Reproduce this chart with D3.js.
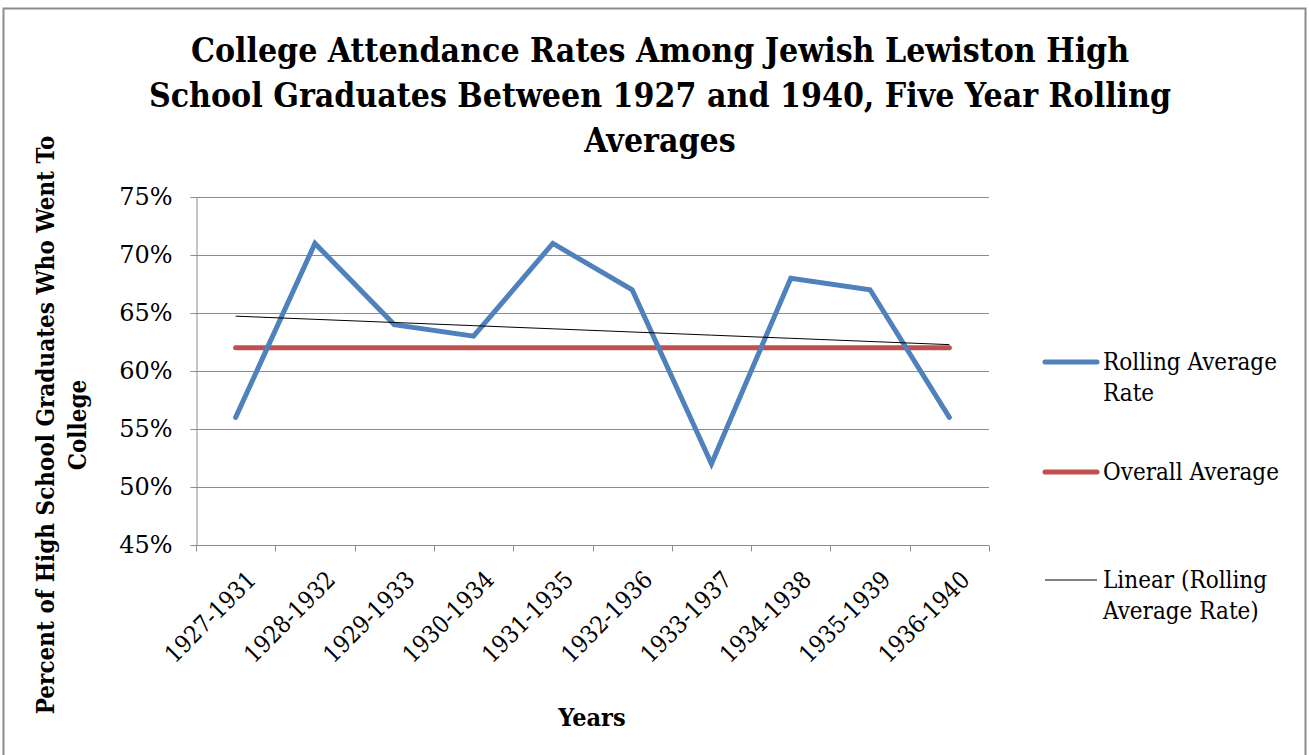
<!DOCTYPE html>
<html>
<head>
<meta charset="utf-8">
<script src="https://cdn.jsdelivr.net/npm/d3@7"></script>
<style>
  body { margin: 0; background: #fff; }
  text { font-family: "DejaVu Serif Condensed", "DejaVu Serif", serif; fill: #000; }
  .grid line { stroke: #8c8c8c; stroke-width: 1; }
  .axis path, .axis line { stroke: #8c8c8c; }
</style>
</head>
<body>
<div id="chart"></div>
<script>
var width = 1309, height = 755;

var periods = ["1927-1931", "1928-1932", "1929-1933", "1930-1934", "1931-1935",
               "1932-1936", "1933-1937", "1934-1938", "1935-1939", "1936-1940"];
var rollingRate = [0.56, 0.71, 0.64, 0.63, 0.71, 0.67, 0.52, 0.68, 0.67, 0.56];
var overallAvg = [0.62, 0.62, 0.62, 0.62, 0.62, 0.62, 0.62, 0.62, 0.62, 0.62];
var yTicks = [0.45, 0.50, 0.55, 0.60, 0.65, 0.70, 0.75];
var titleLines = ["College Attendance Rates Among Jewish Lewiston High",
                  "School Graduates Between 1927 and 1940, Five Year Rolling",
                  "Averages"];
var legendItems = [
  {lines: ["Rolling Average", "Rate"], color: "#4f81bd", w: 5},
  {lines: ["Overall Average"], color: "#c0504d", w: 5},
  {lines: ["Linear (Rolling", "Average Rate)"], color: "#000", w: 1}
];

var plot = {left: 196, right: 989, top: 197, bottom: 545};

var svg = d3.select("#chart").append("svg")
  .attr("width", width)
  .attr("height", height);

// outer frame
svg.append("rect")
  .attr("x", 3.5).attr("y", 8.5)
  .attr("width", 1302).attr("height", 760)
  .attr("fill", "none")
  .attr("stroke", "#8c8c8c")
  .attr("stroke-width", 2);

var x = d3.scaleBand()
  .domain(periods)
  .range([plot.left, plot.right]);

var y = d3.scaleLinear()
  .domain([0.45, 0.75])
  .range([plot.bottom, plot.top]);

function cx(d) { return x(d) + x.bandwidth() / 2; }

// gridlines
svg.append("g")
  .attr("class", "grid")
  .selectAll("line")
  .data(yTicks.slice(1))
  .enter().append("line")
    .attr("x1", plot.left).attr("x2", plot.right)
    .attr("y1", function(d) { return Math.round(y(d)) + 0.5; })
    .attr("y2", function(d) { return Math.round(y(d)) + 0.5; });

// y axis
var yAxis = svg.append("g")
  .attr("class", "axis")
  .attr("transform", "translate(" + (plot.left + 0.5) + ",0)")
  .call(d3.axisLeft(y).tickValues(yTicks).tickFormat(d3.format(".0%"))
    .tickSizeInner(6).tickSizeOuter(0).tickPadding(18));
yAxis.selectAll("text")
  .style("font-size", "24px")
  .style("font-family", "\"DejaVu Serif\", serif");

// x axis with ticks at band edges
var xAxisG = svg.append("g")
  .attr("class", "axis")
  .attr("transform", "translate(0," + (plot.bottom + 0.5) + ")");
xAxisG.append("line")
  .attr("x1", plot.left).attr("x2", plot.right);
xAxisG.selectAll(".edge")
  .data(periods.concat([null]))
  .enter().append("line")
    .attr("class", "edge")
    .attr("x1", function(d, i) { return Math.round(plot.left + i * x.bandwidth()) + 0.5; })
    .attr("x2", function(d, i) { return Math.round(plot.left + i * x.bandwidth()) + 0.5; })
    .attr("y1", 0).attr("y2", 6);
xAxisG.selectAll(".lbl")
  .data(periods)
  .enter().append("text")
    .attr("class", "lbl")
    .attr("transform", function(d) {
      return "translate(" + (cx(d) + 10) + ",24) rotate(-45)";
    })
    .attr("text-anchor", "end")
    .attr("dy", "0.7em")
    .style("font-size", "24px")
    .text(function(d) { return d; });

// trendline (least squares on rolling rate)
var mx = d3.mean(rollingRate, function(d, i) { return i; });
var my = d3.mean(rollingRate);
var slope = d3.sum(rollingRate, function(d, i) { return (i - mx) * (d - my); }) /
            d3.sum(rollingRate, function(d, i) { return (i - mx) * (i - mx); });
var trend = rollingRate.map(function(d, i) { return my + slope * (i - mx); });

var line = d3.line()
  .x(function(d, i) { return cx(periods[i]); })
  .y(function(d) { return y(d); });

svg.append("path")
  .datum(overallAvg)
  .attr("d", line)
  .attr("fill", "none")
  .attr("stroke", "#c0504d")
  .attr("stroke-width", 5)
  .attr("stroke-linecap", "round");

svg.append("path")
  .datum(rollingRate)
  .attr("d", line)
  .attr("fill", "none")
  .attr("stroke", "#4f81bd")
  .attr("stroke-width", 5)
  .attr("stroke-linecap", "round");

svg.append("path")
  .datum(trend)
  .attr("d", line)
  .attr("fill", "none")
  .attr("stroke", "#000")
  .attr("stroke-width", 1);

// title
svg.append("g").selectAll("text")
  .data(titleLines)
  .enter().append("text")
    .attr("x", 660)
    .attr("y", function(d, i) { return 62 + i * 45; })
    .attr("text-anchor", "middle")
    .style("font-size", "33.5px")
    .style("font-weight", "bold")
    .text(function(d) { return d; });

// axis titles
svg.append("text")
  .attr("x", 592).attr("y", 726)
  .attr("text-anchor", "middle")
  .style("font-size", "25px")
  .style("font-weight", "bold")
  .text("Years");

var yTitle = svg.append("g")
  .attr("transform", "translate(54,425) rotate(-90)");
yTitle.selectAll("text")
  .data(["Percent of High School Graduates Who Went To", "College"])
  .enter().append("text")
    .attr("x", 0)
    .attr("y", function(d, i) { return i * 32; })
    .attr("text-anchor", "middle")
    .style("font-size", "24px")
    .style("font-weight", "bold")
    .text(function(d) { return d; });

// legend
var legendY = [362, 472, 580];
var legend = svg.append("g")
  .selectAll("g")
  .data(legendItems)
  .enter().append("g")
    .attr("transform", function(d, i) { return "translate(1043," + legendY[i] + ")"; });

legend.append("line")
  .attr("x1", 2).attr("x2", 54)
  .attr("stroke", function(d) { return d.color; })
  .attr("stroke-width", function(d) { return d.w; })
  .attr("stroke-linecap", function(d) { return d.w > 1 ? "round" : "butt"; });

legend.each(function(d) {
  d3.select(this).selectAll("text")
    .data(d.lines)
    .enter().append("text")
      .attr("x", 60)
      .attr("y", function(t, i) { return i * 31; })
      .attr("dy", "0.35em")
      .style("font-size", "24px")
      .text(function(t) { return t; });
});
</script>
</body>
</html>
